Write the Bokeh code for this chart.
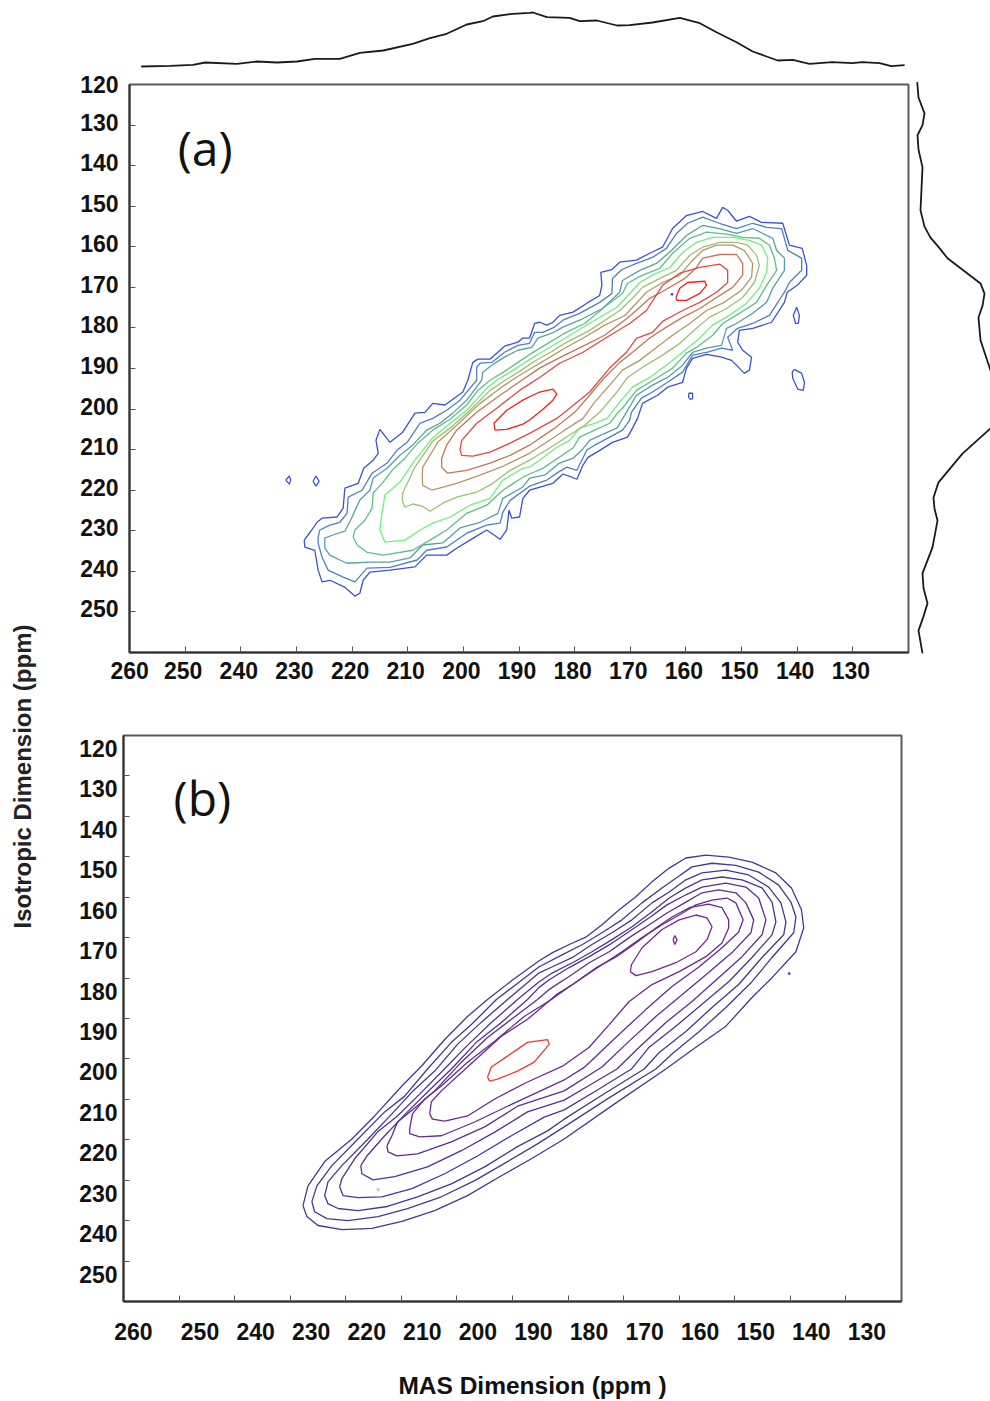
from bokeh.plotting import figure
from bokeh.layouts import row, column
from bokeh.models import Range1d, LinearAxis, FixedTicker, Label
from bokeh.embed import file_html
from bokeh.resources import INLINE

# Axis values
MAS_LIMITS = (260, 120)
ISO_LIMITS = (260, 120)
TICKS = [130, 140, 150, 160, 170, 180, 190, 200, 210, 220, 230, 240, 250]

# Projections
TOP_MAS = [257.9,252.7,248.6,246.4,240.7,237.1,233.5,229.9,226.7,222.2,218.6,214.4,209.1,206.0,203.0,199.4,196.5,194.7,191.1,188.1,187.5,185.0,180.9,179.1,176.0,172.4,170.1,166.0,161.1,157.5,154.5,150.9,148.0,143.5,140.8,137.8,133.7,130.1,128.3,125.2,123.1,120.7]
TOP_INT = [6,6.7,7.7,10,8.7,11,10,11,13.7,13.7,19.7,22,28.7,34.3,38.7,48,51.3,56,58.7,59.7,60,55.3,54.7,51.3,52,47,47.3,50,54.7,49.3,40.3,30.3,21,12,12.7,8.7,10.3,9.3,10.3,9.3,6.3,7.3]
RIGHT_ISO = [119.4,123.2,127.1,130.0,132.5,136.0,140.4,151.0,155.0,157.7,160.0,162.8,166.0,169.0,171.5,174.5,177.4,183.0,190.4,197.8,204.7,210.9,218.0,221.7,224.5,227.4,234.0,240.4,244.0,247.8,251.0,254.5,260.1]
RIGHT_INT = [4.7,6,12,10,5,6,10,8,12,18,26,35,52,68,72,70,66,68,78,88,78,50,26,21,22,25,20,10,11,15,11,6,10]

# Panel (a) contours: (MAS ppm, isotropic ppm)
A1 = [(228.6,232.3),(227.5,230.3),(226.3,227.9),(225.4,226.9),(222.7,226.6),(221.6,224.4),(221.3,219.5),(218.9,218.3),(217.9,214.6),(216.2,212.6),(215.3,210.9),(215.7,207.7),(215.0,205.0),(213.2,208.2),(210.9,205.7),(208.7,201.0),(206.9,200.8),(205.5,198.6),(203.3,199.0),(200.1,195.8),(199.2,192.9),(198.3,188.5),(197.4,187.7),(195.2,187.7),(192.6,184.5),(190.2,183.5),(189.3,182.5),(188.1,182.5),(187.2,178.9),(186.3,178.6),(185.0,179.3),(183.9,178.6),(182.7,176.9),(180.3,176.1),(177.8,173.9),(175.5,172.0),(175.1,169.5),(175.3,166.3),(173.3,165.6),(171.9,163.8),(168.9,163.3),(166.5,161.6),(164.2,160.1),(162.4,155.5),(159.9,152.3),(157.0,151.3),(154.5,153.0),(153.4,150.3),(152.5,151.0),(150.9,153.7),(148.6,152.5),(146.4,154.0),(142.6,154.2),(141.4,159.6),(139.1,160.4),(138.3,164.6),(138.3,167.0),(140.0,169.5),(141.8,171.2),(142.3,173.7),(144.6,178.6),(148.0,180.1),(150.4,180.6),(150.7,183.5),(149.8,185.5),(148.2,187.2),(148.6,190.4),(149.5,191.2),(150.4,189.9),(151.8,188.0),(153.6,187.2),(156.3,186.5),(158.8,187.5),(159.9,189.9),(160.6,193.4),(163.3,194.6),(165.1,196.6),(167.8,198.6),(168.7,202.3),(169.6,204.7),(170.5,206.9),(173.2,208.2),(176.0,210.6),(177.6,211.9),(178.5,213.8),(179.6,217.3),(180.5,216.8),(182.1,216.0),(183.9,218.3),(188.1,220.0),(189.3,222.0),(189.9,226.6),(191.3,226.9),(191.8,224.9),(192.2,229.8),(193.4,232.1),(195.8,229.8),(198.8,232.3),(201.2,234.3),(203.0,236.0),(206.6,236.0),(208.7,238.9),(213.2,239.7),(216.8,240.2),(218.0,242.2),(218.6,245.4),(219.5,246.1),(221.3,243.9),(224.0,242.2),(225.4,242.6),(226.1,239.7),(226.7,234.8),(228.5,234.0)]
A1_ISLANDS = [
    [(225.9,217.8),(226.5,216.5),(227.0,217.8),(226.5,219.0)],
    [(231.0,217.5),(231.3,216.5),(231.9,217.5),(231.3,218.5)],
    [(140.1,174.9),(139.6,176.9),(139.8,178.9),(140.3,178.9),(140.7,176.9)],
    [(140.5,190.2),(139.2,191.2),(138.7,193.4),(138.9,195.4),(139.9,195.1),(140.8,192.4),(140.9,190.9)],
    [(159.5,196.1),(158.8,196.1),(158.8,197.4),(159.2,197.6),(159.5,197.1)],
]
A2 = [(226.1,231.6),(225.8,229.8),(224.0,228.6),(222.2,227.9),(220.9,225.7),(220.7,221.7),(218.2,220.0),(216.4,215.8),(213.7,213.3),(211.9,210.1),(210.1,208.2),(207.8,203.5),(205.5,202.3),(203.0,200.3),(200.6,197.8),(197.6,192.9),(197.6,189.7),(197.0,188.7),(194.9,188.5),(192.6,186.0),(190.2,184.3),(188.1,183.8),(187.2,181.1),(185.7,181.1),(183.6,179.8),(182.1,178.1),(179.1,176.4),(175.5,173.7),(173.3,171.5),(173.2,167.8),(171.5,165.6),(168.9,164.1),(166.0,162.6),(163.5,160.4),(161.7,156.7),(159.7,154.2),(157.0,152.7),(154.0,154.2),(150.9,155.5),(148.0,154.2),(145.5,155.2),(142.8,155.5),(141.7,160.9),(139.2,162.8),(139.2,165.8),(141.4,168.8),(142.3,171.2),(145.0,176.9),(148.0,178.9),(150.7,180.1),(152.5,182.3),(151.6,185.5),(153.6,185.0),(156.3,186.0),(158.8,186.7),(160.6,190.9),(163.3,193.4),(166.0,195.8),(168.0,197.3),(169.8,200.8),(170.1,202.7),(171.4,205.2),(173.7,206.9),(176.4,208.9),(177.8,210.1),(179.6,215.1),(181.4,214.3),(183.0,215.6),(185.0,217.5),(188.1,219.0),(191.6,222.5),(192.9,225.4),(193.4,228.1),(195.8,228.6),(199.4,230.6),(203.0,234.0),(206.6,234.8),(208.3,237.2),(213.2,239.0),(217.3,239.2),(219.5,242.6),(221.6,241.4),(224.3,239.7),(225.4,236.5),(226.1,233.0)]
A3 = [(224.9,234.3),(224.9,231.8),(223.6,231.1),(221.3,230.1),(220.0,226.6),(218.6,222.4),(216.8,220.0),(216.2,217.0),(213.7,214.6),(211.4,211.4),(209.1,208.9),(206.6,205.2),(204.2,203.5),(201.9,201.0),(199.4,197.8),(196.7,192.9),(196.5,190.9),(194.9,189.2),(192.6,187.2),(190.2,185.5),(187.7,184.8),(186.6,182.5),(184.1,181.3),(182.1,179.8),(179.1,178.1),(175.0,175.2),(171.9,171.2),(171.4,168.3),(168.3,165.8),(165.3,164.1),(162.6,160.9),(159.9,157.2),(157.0,154.7),(154.0,155.5),(150.9,156.7),(148.0,155.5),(145.5,157.2),(144.4,157.9),(143.7,160.9),(142.3,162.8),(142.3,165.8),(144.4,170.2),(145.5,173.7),(148.0,176.4),(150.9,178.9),(152.7,180.1),(153.6,184.3),(156.3,185.0),(158.8,186.0),(160.6,189.2),(163.3,192.2),(166.0,194.1),(168.9,196.6),(170.7,200.8),(172.4,204.7),(174.6,206.0),(177.3,207.7),(178.7,210.1),(180.3,212.1),(182.7,213.3),(185.4,216.3),(188.1,217.0),(189.3,219.2),(192.9,222.0),(193.8,225.7),(197.0,227.9),(200.6,229.3),(203.7,233.0),(207.3,233.5),(209.6,236.7),(213.2,237.7),(216.8,237.7),(220.9,238.0),(222.2,237.2),(224.0,236.0)]
A4 = [(219.8,231.6),(219.5,229.8),(217.7,227.4),(216.4,224.4),(216.2,220.7),(214.6,218.3),(212.8,215.1),(210.5,212.1),(208.2,208.4),(205.5,205.2),(202.4,202.5),(199.4,199.0),(197.4,195.4),(195.2,192.9),(192.6,190.7),(190.2,188.5),(187.7,186.2),(185.4,184.3),(181.8,181.3),(178.2,178.9),(174.2,174.4),(171.4,171.5),(170.5,169.0),(167.8,167.0),(164.7,165.3),(162.4,161.6),(159.3,157.9),(156.3,156.4),(152.7,156.9),(149.8,157.7),(146.8,157.9),(145.0,159.6),(144.1,162.8),(143.7,165.8),(145.5,169.5),(147.3,173.7),(150.4,176.4),(153.4,178.9),(155.2,181.8),(158.1,184.8),(159.9,186.2),(162.4,189.9),(165.3,192.4),(168.9,195.4),(171.4,199.8),(172.3,201.0),(173.7,203.5),(176.4,205.2),(179.1,206.9),(180.3,209.6),(183.0,212.1),(185.7,214.6),(188.1,216.0),(189.3,216.8),(192.9,220.0),(195.8,223.7),(199.4,225.7),(203.0,229.8),(206.0,232.3),(209.1,234.8),(214.4,236.0),(217.3,235.3),(219.1,233.5)]
A5 = [(215.0,229.8),(214.8,227.4),(214.1,221.2),(211.4,218.0),(208.7,212.6),(205.6,207.2),(202.8,204.0),(199.4,200.3),(195.8,194.9),(194.0,192.9),(191.6,190.9),(188.9,188.5),(185.4,185.5),(181.8,182.6),(178.2,179.6),(172.4,174.9),(170.1,171.5),(168.3,168.8),(166.0,167.0),(162.9,165.1),(160.6,161.4),(158.1,158.9),(155.2,157.7),(151.6,157.7),(148.6,158.4),(146.4,159.6),(145.3,162.8),(145.5,166.3),(146.8,170.2),(149.1,173.9),(152.2,176.9),(155.2,179.3),(157.5,182.5),(160.6,186.0),(162.9,188.5),(166.5,192.2),(169.6,194.6),(171.9,198.3),(174.2,202.3),(176.4,203.5),(179.1,204.7),(180.9,207.7),(183.2,209.4),(186.3,212.6),(188.1,214.3),(189.3,214.6),(192.9,217.5),(195.2,222.0),(198.8,223.7),(202.4,226.6),(205.5,228.1),(207.8,229.8),(210.5,232.3),(214.1,232.8)]
A6 = [(211.0,222.5),(210.9,220.7),(208.7,214.3),(205.5,207.9),(202.4,204.7),(198.8,200.3),(195.2,195.4),(192.5,192.9),(189.9,190.7),(187.2,188.2),(184.1,185.8),(181.8,183.8),(177.3,180.6),(171.9,175.7),(169.6,172.7),(167.8,170.0),(164.7,167.8),(161.7,165.8),(159.3,162.1),(157.0,160.1),(153.9,158.9),(150.9,158.9),(148.9,159.6),(147.3,162.1),(146.8,164.6),(147.7,168.8),(149.8,172.5),(152.7,175.2),(155.8,177.4),(158.1,180.1),(161.1,183.8),(164.2,186.7),(167.8,189.7),(170.5,192.2),(172.4,195.8),(175.5,200.8),(178.2,204.0),(180.9,206.4),(184.5,209.6),(188.1,212.6),(191.6,215.1),(194.7,218.3),(197.6,220.5),(201.2,221.7),(203.7,223.2),(206.0,225.2),(207.4,223.9),(209.1,223.4),(210.5,224.2)]
A7 = [(205.6,220.0),(207.3,218.8),(207.4,216.8),(207.3,214.3),(204.6,208.2),(201.2,204.0),(197.0,198.6),(192.9,194.4),(191.3,192.9),(188.1,190.2),(185.4,188.0),(181.8,185.0),(178.2,182.3),(174.6,179.3),(171.0,177.0),(167.1,171.2),(164.2,168.8),(161.1,167.0),(158.8,163.3),(157.0,160.9),(154.5,159.6),(151.6,159.6),(149.5,160.9),(148.0,164.1),(148.2,167.5),(150.0,170.7),(153.4,173.9),(156.3,175.7),(159.3,178.9),(162.4,181.8),(165.3,184.8),(168.3,188.0),(171.4,190.4),(173.7,194.1),(176.4,198.3),(178.5,202.3),(181.8,205.2),(184.5,207.7),(188.1,210.9),(192.9,214.1),(197.0,216.3),(201.2,218.3)]
A8 = [(202.8,215.8),(203.9,214.3),(203.9,212.1),(203.0,208.9),(201.2,205.2),(197.6,200.8),(193.4,196.6),(189.5,192.9),(186.3,189.9),(181.8,186.7),(178.2,184.3),(174.6,181.8),(170.1,177.1),(166.5,172.7),(163.8,170.7),(160.2,167.8),(158.1,165.1),(157.0,162.8),(153.9,161.9),(150.9,161.9),(149.8,164.1),(149.8,167.0),(151.6,170.0),(154.5,172.5),(157.5,175.2),(160.6,177.4),(163.5,179.8),(166.5,182.5),(169.6,186.0),(171.9,188.5),(174.6,192.2),(177.3,196.6),(180.0,200.8),(183.6,204.7),(188.1,208.9),(191.6,211.4),(195.2,213.3),(199.4,215.1)]
A9 = [(200.6,210.1),(200.3,207.7),(197.6,203.5),(194.0,199.8),(189.9,195.4),(186.3,192.2),(182.7,188.7),(178.5,186.0),(174.2,182.3),(170.1,178.9),(167.1,175.7),(164.2,169.5),(161.1,166.5),(157.5,165.1),(153.9,164.3),(152.5,165.8),(152.5,168.8),(154.5,171.2),(157.5,173.7),(160.6,175.7),(164.2,178.4),(166.0,181.1),(168.9,182.6),(170.7,186.0),(173.7,189.9),(177.3,195.8),(180.9,199.8),(183.2,202.3),(188.1,206.0),(191.6,208.4),(195.2,210.6),(198.3,211.6),(200.3,211.4)]
A10_LOWER = [(194.3,205.2),(194.5,203.5),(192.2,200.3),(189.3,197.8),(186.3,195.8),(183.9,195.1),(183.2,196.3),(183.9,197.8),(185.9,200.3),(188.1,202.7),(189.3,203.7),(192.2,205.0)]
A10_UPPER = [(161.8,172.5),(161.1,170.2),(159.7,168.8),(156.6,168.5),(156.3,169.5),(157.5,171.5),(159.9,173.2),(161.6,173.2)]
A_LEVELS = [A1, A2, A3, A4, A5, A6, A7, A8, A9, A10_LOWER, A10_UPPER]
A_COLORS = ["#3f4fd8", "#4f7fc4", "#56a0a4", "#5cc08c", "#6ff07c", "#9cc070", "#b09a60", "#c07858", "#e04848", "#f02020", "#f02020"]

# Panel (b) contours
B1 = [(227.7,236.3),(227.0,239.0),(225.0,241.2),(220.7,242.2),(215.3,241.9),(209.9,240.2),(204.0,237.5),(198.1,233.8),(192.0,228.9),(186.6,224.7),(180.7,219.8),(171.5,211.0),(162.4,202.5),(157.0,197.1),(151.6,191.9),(146.9,184.8),(143.3,179.9),(139.0,173.5),(137.6,167.6),(138.0,163.1),(139.8,157.7),(142.6,154.0),(146.9,151.3),(151.1,150.1),(155.2,149.6),(158.8,150.3),(161.8,152.8),(164.9,156.2),(167.8,159.9),(170.8,163.1),(173.9,166.8),(176.7,169.8),(179.8,171.7),(182.8,173.7),(185.2,175.7),(190.0,180.5),(194.5,185.3),(198.1,189.5),(202.2,195.2),(206.4,201.8),(209.9,206.7),(214.8,214.1),(218.9,219.8),(223.8,225.4),(226.8,231.4)]
B2 = [(226.1,235.3),(225.6,237.8),(223.4,239.5),(219.6,240.0),(214.2,239.0),(208.9,237.0),(202.8,234.1),(196.8,230.1),(190.9,225.4),(185.5,221.0),(180.7,216.8),(172.5,209.5),(164.2,202.5),(161.3,198.8),(156.4,193.2),(151.6,187.3),(146.9,180.9),(143.3,174.9),(139.4,168.8),(139.0,164.9),(139.9,161.2),(142.1,157.0),(145.7,153.8),(149.8,152.1),(154.1,151.6),(157.7,152.5),(160.6,155.3),(163.1,157.7),(166.7,161.4),(170.3,165.6),(173.9,168.8),(177.4,171.7),(181.0,174.2),(185.2,177.2),(189.0,181.2),(192.9,185.3),(197.4,191.5),(201.0,195.9),(205.3,202.5),(209.4,209.2),(213.0,213.1),(217.8,219.8),(222.5,226.4),(225.2,231.4)]
B3 = [(223.8,233.8),(223.2,235.8),(221.4,237.0),(217.8,237.5),(212.5,236.5),(207.1,234.1),(201.0,230.9),(195.0,226.7),(189.1,221.7),(183.7,217.8),(180.7,214.9),(173.5,208.6),(166.3,202.5),(163.6,198.4),(158.8,193.2),(154.1,187.3),(149.3,181.6),(145.1,174.9),(141.2,169.3),(140.8,166.1),(141.7,161.4),(143.9,157.5),(147.5,154.5),(151.6,153.3),(155.9,154.0),(158.8,155.7),(161.8,158.7),(164.9,161.4),(168.5,165.6),(172.1,168.8),(175.7,171.7),(179.2,174.9),(182.8,177.2),(185.2,178.7),(190.9,185.3),(195.6,190.9),(199.9,196.4),(204.0,203.0),(208.1,208.2),(211.7,213.6),(216.0,219.8),(220.7,226.4),(223.2,230.4)]
B4 = [(221.1,231.6),(220.5,233.8),(217.8,234.3),(213.5,234.1),(208.1,232.1),(202.2,228.4),(196.3,224.0),(190.2,219.0),(184.3,214.4),(180.7,212.6),(174.5,207.5),(168.6,202.5),(165.4,197.1),(160.6,191.9),(155.9,186.5),(151.1,180.9),(146.9,174.9),(143.3,169.3),(142.6,166.1),(143.3,161.2),(145.1,157.7),(148.7,155.7),(152.3,155.0),(155.9,155.7),(158.8,157.7),(161.8,160.2),(164.9,163.6),(168.5,167.3),(172.1,170.5),(175.7,173.5),(179.2,176.2),(182.8,178.7),(185.2,180.9),(189.1,185.3),(193.8,191.0),(198.3,196.9),(202.6,203.0),(206.7,208.7),(210.7,214.1),(214.3,218.1),(218.4,224.7),(220.7,229.6)]
B5 = [(217.3,226.4),(217.1,228.4),(215.1,229.9),(211.2,229.1),(205.3,226.7),(199.2,222.7),(193.2,218.1),(187.3,213.1),(180.7,210.2),(176.0,206.4),(171.2,202.5),(167.2,197.1),(162.4,191.0),(157.7,185.8),(152.9,179.9),(148.7,174.7),(145.1,169.3),(144.4,165.6),(145.7,160.2),(148.0,157.5),(151.6,156.5),(155.9,157.5),(158.8,159.4),(162.2,161.9),(165.4,165.1),(169.0,168.5),(172.6,171.8),(176.2,174.7),(179.8,177.4),(183.4,180.4),(185.2,182.3),(187.3,185.3),(192.0,191.0),(196.5,195.9),(201.0,202.5),(205.3,208.2),(208.9,213.1),(213.0,219.0),(216.2,224.0)]
B6 = [(212.6,221.5),(212.4,223.0),(210.8,224.0),(207.1,223.5),(201.0,220.5),(195.0,216.8),(189.1,211.7),(180.7,207.9),(173.9,202.0),(169.0,195.6),(164.2,189.5),(159.5,184.1),(154.7,178.6),(150.5,173.7),(147.1,168.8),(146.6,165.6),(148.0,161.4),(149.8,158.9),(152.9,158.2),(155.9,158.9),(158.8,161.2),(162.2,163.9),(165.4,166.8),(169.0,170.0),(172.6,173.5),(176.2,176.2),(179.8,179.6),(183.4,182.8),(185.5,185.3),(190.2,190.2),(194.5,194.7),(199.2,200.8),(204.0,207.9),(207.1,211.6),(210.7,215.6),(211.7,219.0)]
B7 = [(208.5,217.3),(208.5,218.5),(206.7,219.3),(202.8,219.0),(196.8,215.6),(190.9,211.7),(180.7,205.2),(177.1,202.1),(170.8,193.9),(166.0,187.8),(161.3,182.1),(156.4,177.2),(152.3,172.5),(149.3,168.6),(148.5,165.6),(149.8,161.4),(151.4,160.2),(154.1,160.7),(157.0,161.9),(160.0,164.4),(163.1,166.8),(166.7,170.0),(170.3,173.5),(173.9,176.7),(177.4,179.9),(181.0,183.3),(183.0,185.3),(187.9,189.5),(193.2,195.6),(198.1,200.8),(202.8,206.7),(205.8,209.9),(208.0,213.6)]
B8 = [(204.9,213.6),(204.4,214.9),(202.2,215.4),(198.1,214.1),(193.2,209.9),(187.3,205.7),(181.0,201.8),(176.2,197.1),(172.6,191.5),(169.0,185.8),(164.9,181.6),(160.0,178.4),(155.2,174.7),(152.3,171.3),(151.1,167.6),(151.1,165.6),(152.3,162.6),(154.7,161.7),(158.2,162.6),(161.3,164.9),(164.2,167.6),(167.8,171.3),(171.3,174.7),(174.9,177.4),(179.2,181.6),(182.1,184.1),(185.2,187.8),(187.3,190.2),(192.0,194.4),(198.1,202.0),(202.8,207.9),(204.6,210.6)]
B9 = [(168.8,178.4),(168.6,176.7),(166.7,172.5),(163.1,168.0),(160.0,165.6),(157.0,164.4),(155.0,165.1),(154.1,167.3),(155.0,170.5),(157.0,173.5),(160.6,176.2),(164.9,178.4),(167.8,179.4)]
B10 = [(160.8,169.5),(160.4,170.5),(160.8,171.7),(161.1,170.5)]
B_RED = [(194.5,204.5),(193.8,202.0),(190.9,199.3),(187.3,195.9),(183.7,195.2),(183.4,196.4),(186.1,200.8),(189.1,203.0),(192.7,205.0),(194.1,205.5)]
B_LEVELS = [B1, B2, B3, B4, B5, B6, B7, B8, B9, B10, B_RED]
B_COLORS = ["#3a3c96", "#3f3a96", "#463694", "#4c3492", "#54308f", "#5c2e8d", "#642c8b", "#6c2a89", "#762a88", "#762a88", "#e83838"]
DOT_A = [(162.5, 171.7, "#6a3aa8")]
DOTS_B = [(140.2, 178.9, "#3050e0"), (214.2, 232.3, "#80f080")]

FONT = "Liberation Sans"
GREY = "#5a5a5a"
LEFT_STRIP = 38
COL_W = 872
TICK_FONT_SIZE = "23px"


def closed(pts):
    pts = list(pts) + [pts[0]]
    return [a for a, _ in pts], [b for _, b in pts]


def style_panel(p, xshift_ppm, yshift_ppm, x_standoff, y_standoff, x_ticks, y_ticks, x_over, y_over):
    p.toolbar_location = None
    p.grid.visible = False
    p.outline_line_color = GREY
    p.outline_line_width = 2
    for ax in (p.xaxis[0], p.yaxis[0]):
        ax.ticker = FixedTicker(ticks=TICKS)
        ax.major_tick_in = 6
        ax.major_tick_out = 0
        ax.minor_tick_line_color = None
        ax.major_tick_line_color = "#555555"
        ax.axis_line_color = "#333333"
        ax.axis_line_width = 2
        ax.major_label_text_font_size = "1px"
        ax.major_label_text_color = None
        ax.major_label_standoff = 0
    p.extra_x_ranges = {"lab": Range1d(MAS_LIMITS[0] + xshift_ppm, MAS_LIMITS[1] + xshift_ppm)}
    p.extra_y_ranges = {"lab": Range1d(ISO_LIMITS[0] - yshift_ppm, ISO_LIMITS[1] - yshift_ppm)}
    xa = LinearAxis(x_range_name="lab", ticker=FixedTicker(ticks=x_ticks), major_label_overrides=x_over)
    ya = LinearAxis(y_range_name="lab", ticker=FixedTicker(ticks=y_ticks), major_label_overrides=y_over)
    for ax, st in ((xa, x_standoff), (ya, y_standoff)):
        ax.major_tick_line_color = None
        ax.minor_tick_line_color = None
        ax.axis_line_color = None
        ax.major_label_standoff = st
        ax.major_label_text_font = FONT
        ax.major_label_text_font_style = "bold"
        ax.major_label_text_font_size = TICK_FONT_SIZE
        ax.major_label_text_color = "#111111"
    p.add_layout(xa, "below")
    p.add_layout(ya, "left")


strip = figure(width=LEFT_STRIP, height=1401, x_range=(0, 1), y_range=(0, 1), x_axis_type=None, y_axis_type=None,
               output_backend="svg", toolbar_location=None, min_border=0, outline_line_color=None)
strip.add_layout(Label(x=0.579, y=0.4461, text="Isotropic Dimension (ppm)", angle=90, angle_units="deg",
                       text_font=FONT, text_font_style="bold", text_font_size="24px", text_align="center",
                       text_baseline="middle", text_color="#222222"))

top = figure(width=COL_W, height=72, x_range=MAS_LIMITS, y_range=(0, 72), x_axis_type=None, y_axis_type=None,
             output_backend="svg", toolbar_location=None, outline_line_color=None,
             min_border_left=91, min_border_right=2, min_border_top=0, min_border_bottom=0)
top.line(TOP_MAS, TOP_INT, line_color="#1a1a1a", line_width=1.8)

pa = figure(width=COL_W, height=628, x_range=MAS_LIMITS, y_range=ISO_LIMITS, output_backend="svg",
            toolbar_location=None, min_border_left=91, min_border_right=2, min_border_top=12, min_border_bottom=48)
for pts, col in zip(A_LEVELS, A_COLORS):
    xs, ys = closed(pts)
    pa.line(xs, ys, line_color=col, line_width=1.3)
for pts in A1_ISLANDS:
    xs, ys = closed(pts)
    pa.line(xs, ys, line_color=A_COLORS[0], line_width=1.3)
for xv, yv, col in DOT_A:
    pa.scatter([xv], [yv], size=2, color=col)
style_panel(pa, -2 / 5.57, -3 / 4.06, 3, 5, [259.6] + TICKS[::-1], [120.8] + TICKS, {259.6: "260"}, {120.8: "120"})
pa.add_layout(Label(x=246.4, y=135.6, text="(a)", text_font="Open Sans", text_font_size="48px", text_align="center",
                    text_baseline="middle", text_color="#111111"))

right = figure(width=80, height=628, x_range=(0, 78), y_range=(261.87, 117.04), x_axis_type=None, y_axis_type=None,
               output_backend="svg", toolbar_location=None, outline_line_color=None,
               min_border_left=2, min_border_right=0, min_border_top=0, min_border_bottom=40)
right.line(RIGHT_INT, RIGHT_ISO, line_color="#1a1a1a", line_width=1.8)

pb = figure(width=COL_W, height=661, x_range=MAS_LIMITS, y_range=ISO_LIMITS, output_backend="svg",
            toolbar_location=None, min_border_left=85, min_border_right=9, min_border_top=35, min_border_bottom=60)
for pts, col in zip(B_LEVELS, B_COLORS):
    xs, ys = closed(pts)
    pb.line(xs, ys, line_color=col, line_width=1.3)
for xv, yv, col in DOTS_B:
    pb.scatter([xv], [yv], size=2, color=col)
style_panel(pb, 21 / 5.57, 13 / 4.06, 15, 0, [262] + TICKS[::-1], [120] + TICKS, {262: "260"}, {})
pb.add_layout(Label(x=245.8, y=135.3, text="(b)", text_font="Open Sans", text_font_size="48px", text_align="center",
                    text_baseline="middle", text_color="#111111"))

xlabel = figure(width=COL_W, height=40, x_range=(0, 1), y_range=(0, 1), x_axis_type=None, y_axis_type=None,
                output_backend="svg", toolbar_location=None, min_border=0, outline_line_color=None)
xlabel.add_layout(Label(x=0.5665, y=0.4, text="MAS Dimension (ppm )", text_font=FONT, text_font_style="bold",
                        text_font_size="24.5px", text_align="center", text_baseline="middle", text_color="#111111"))

page = row(strip, column(row(top), row(pa, column(right)), row(pb), row(xlabel)))
open("out.html", "w").write(file_html(page, INLINE))
